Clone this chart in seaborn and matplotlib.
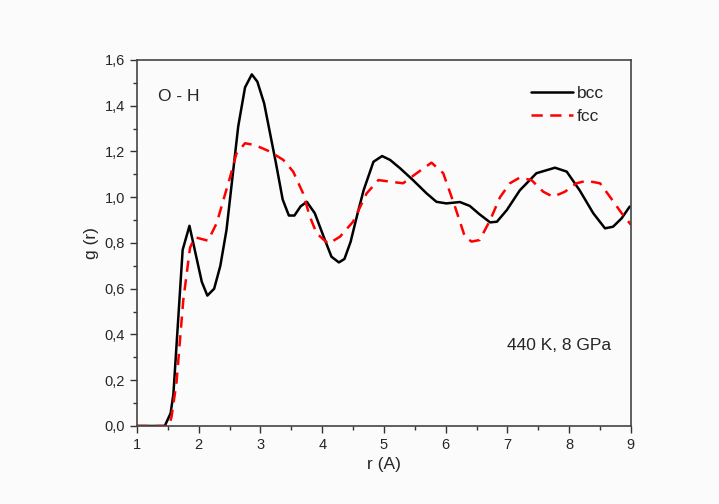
import matplotlib
matplotlib.use("Agg")
import matplotlib.pyplot as plt
from matplotlib.ticker import MultipleLocator, FuncFormatter
import seaborn as sns

# ---- data ----
r_bcc = [1.0, 1.45, 1.545, 1.59, 1.74, 1.85, 2.05, 2.14, 2.25, 2.35, 2.45, 2.64, 2.75, 2.86,
         2.95, 3.06, 3.25, 3.36, 3.46, 3.55, 3.65, 3.75, 3.88, 4.02, 4.15, 4.27, 4.36, 4.46,
         4.56, 4.67, 4.83, 4.97, 5.10, 5.26, 5.47, 5.69, 5.85, 6.01, 6.23, 6.39, 6.55, 6.72,
         6.83, 6.99, 7.20, 7.47, 7.77, 7.96, 8.17, 8.39, 8.58, 8.71, 8.85, 8.98]
g_bcc = [0.0, 0.0, 0.056, 0.14, 0.77, 0.875, 0.63, 0.57, 0.60, 0.70, 0.857, 1.31, 1.48, 1.537,
         1.505, 1.41, 1.15, 0.99, 0.92, 0.92, 0.96, 0.98, 0.93, 0.83, 0.74, 0.715, 0.73, 0.805,
         0.915, 1.03, 1.155, 1.18, 1.163, 1.127, 1.075, 1.017, 0.98, 0.973, 0.979, 0.962, 0.925, 0.89,
         0.893, 0.944, 1.03, 1.105, 1.129, 1.112, 1.03, 0.93, 0.864, 0.871, 0.908, 0.959]

r_fcc = [1.0, 1.52, 1.56, 1.64, 1.75, 1.86, 1.94, 2.15, 2.29, 2.51, 2.61, 2.75, 2.91, 3.15,
         3.37, 3.53, 3.69, 3.80, 3.91, 4.10, 4.29, 4.50, 4.72, 4.91, 5.10, 5.31, 5.53, 5.77,
         5.96, 6.15, 6.31, 6.42, 6.55, 6.72, 6.88, 7.04, 7.20, 7.39, 7.58, 7.74, 7.93, 8.12,
         8.28, 8.50, 8.66, 8.85, 9.0]
g_fcc = [0.0, 0.0, 0.04, 0.19, 0.55, 0.78, 0.825, 0.81, 0.886, 1.09, 1.19, 1.236, 1.228, 1.20,
         1.163, 1.112, 1.017, 0.915, 0.842, 0.796, 0.828, 0.893, 1.017, 1.075, 1.068, 1.061, 1.105, 1.151,
         1.105, 0.959, 0.828, 0.806, 0.813, 0.90, 1.00, 1.061, 1.086, 1.075, 1.024, 1.002, 1.024, 1.061,
         1.072, 1.061, 1.002, 0.93, 0.88]

sns.set_style("ticks")
plt.rcParams['font.family'] = ['Liberation Sans', 'DejaVu Sans']

fig = plt.figure(figsize=(7.19, 5.04), dpi=100)
fig.patch.set_facecolor('#fbfbfb')
ax = fig.add_axes([0.1905, 0.1548, 0.687, 0.7262])
ax.set_facecolor('#fbfbfb')

sns.lineplot(x=r_bcc, y=g_bcc, ax=ax, color='black', lw=1.8, label='bcc', sort=False)
sns.lineplot(x=r_fcc, y=g_fcc, ax=ax, color='red', lw=1.8, label='fcc', sort=False,
             linestyle=(0, (4.5, 3)))

ax.set_xlim(1, 9)
ax.set_ylim(0, 1.6)
ax.xaxis.set_major_locator(MultipleLocator(1))
ax.xaxis.set_minor_locator(MultipleLocator(0.5))
ax.yaxis.set_major_locator(MultipleLocator(0.2))
ax.yaxis.set_minor_locator(MultipleLocator(0.1))
ax.yaxis.set_major_formatter(FuncFormatter(lambda v, p: f"{v:.1f}".replace('.', ',')))
ax.tick_params(which='major', direction='out', length=5, width=1, labelsize=10.5, color='#333333')
ax.tick_params(which='minor', direction='out', length=3, width=1, color='#333333')
for s in ax.spines.values():
    s.set_color('#444444')
    s.set_linewidth(1.2)

ax.set_xlabel('r (A)', fontsize=12.5)
ax.set_ylabel('g (r)', fontsize=12.5)

ax.text(0.043, 0.9, 'O - H', transform=ax.transAxes, fontsize=12.5, va='center')
ax.text(0.75, 0.22, '440 K, 8 GPa', transform=ax.transAxes, fontsize=12.5, va='center')

ax.legend(loc='upper right', bbox_to_anchor=(0.945, 0.93), frameon=False, fontsize=12.5,
          handlelength=2.4, handletextpad=0.2, labelspacing=0.45, borderpad=0, borderaxespad=0)

fig.savefig('out.png', dpi=100, facecolor=fig.get_facecolor())
